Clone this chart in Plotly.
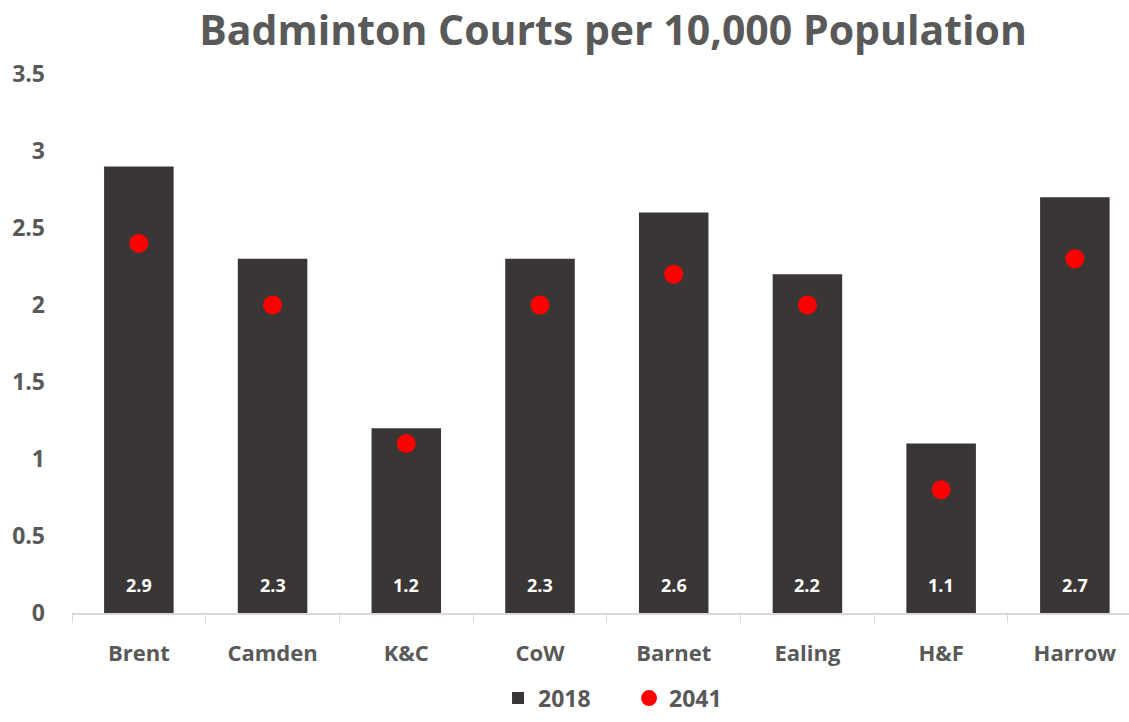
import plotly.graph_objects as go

categories = ["Brent", "Camden", "K&C", "CoW", "Barnet", "Ealing", "H&F", "Harrow"]
values_2018 = [2.9, 2.3, 1.2, 2.3, 2.6, 2.2, 1.1, 2.7]
values_2041 = [2.4, 2.0, 1.1, 2.0, 2.2, 2.0, 0.8, 2.3]
y_ticks = [0, 0.5, 1, 1.5, 2, 2.5, 3, 3.5]
y_tick_labels = ["0", "0.5", "1", "1.5", "2", "2.5", "3", "3.5"]

GRAY = "#595959"
FONT = "Open Sans"

fig = go.Figure()
fig.add_trace(go.Bar(
    x=categories, y=values_2018, name="2018",
    marker=dict(color="#3a3636", line=dict(width=0)),
    width=0.52,
))
fig.add_trace(go.Scatter(
    x=categories, y=values_2041, name="2041", mode="markers",
    marker=dict(color="#ff0000", size=19),
))

# value labels near the base of each bar
for c, v in zip(categories, values_2018):
    fig.add_annotation(x=c, y=0, text=f"{v:.1f}", showarrow=False,
                       yanchor="middle", yshift=28,
                       font=dict(color="white", size=18, family=FONT, weight="bold"))

fig.update_layout(
    width=1129, height=722,
    margin=dict(l=72, r=0, t=74, b=109, autoexpand=False),
    paper_bgcolor="white", plot_bgcolor="white",
    title=dict(text="Badminton Courts per 10,000 Population", x=0.543, xanchor="center",
               y=0.957, yanchor="middle",
               font=dict(family=FONT, size=41, color=GRAY, weight="bold")),
    font=dict(family=FONT, color=GRAY),
    legend=dict(orientation="h", x=0.527, xanchor="center", y=-0.158, yanchor="middle",
                font=dict(size=23, color=GRAY, family=FONT, weight="bold"),
                itemwidth=30, entrywidth=86, entrywidthmode="pixels", tracegroupgap=0),
    showlegend=True,
)
fig.update_xaxes(
    range=[-0.5, 7.405], showgrid=False, automargin=False,
    showline=True, linecolor="#d9d9d9", linewidth=1.5,
    ticks="outside", tickson="boundaries", ticklen=8, tickcolor="#d9d9d9",
    ticklabelstandoff=20,
    tickfont=dict(size=22, color=GRAY, family=FONT, weight="bold"),
)
fig.update_yaxes(
    range=[0, 3.5], showgrid=False, showline=False, zeroline=False, automargin=False,
    tickvals=y_ticks, ticktext=y_tick_labels, ticks="", ticklabelstandoff=26,
    tickfont=dict(size=23, color=GRAY, family=FONT, weight="bold"),
)

fig.write_html("out.html")
